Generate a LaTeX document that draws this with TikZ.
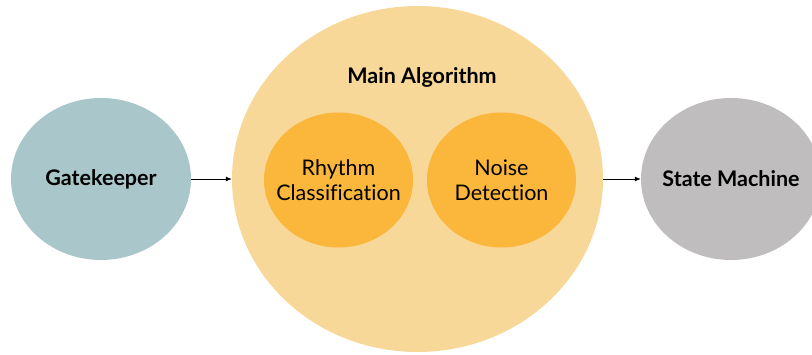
\documentclass[tikz,border=0pt]{standalone}
\usepackage{fontspec}
\setmainfont{Lato}[Ligatures={NoCommon,NoRare}]
\usetikzlibrary{shapes.geometric,arrows.meta}
\definecolor{gatefill}{HTML}{A9C7CA}
\definecolor{mainfill}{HTML}{F7D898}
\definecolor{subfill}{HTML}{FBB73B}
\definecolor{statefill}{HTML}{BFBDBD}
\begin{document}
\begin{tikzpicture}[x=1pt,y=1pt]
\tikzstyle{every node}+=[inner sep=0pt]
\tikzstyle{blob}=[ellipse, draw=none]
\tikzstyle{txt}=[align=center, font=\fontsize{21.5}{25}\selectfont]
\tikzstyle{head}=[txt, font=\fontsize{21.5}{25}\selectfont\bfseries]
\tikzstyle{link}=[-{Latex[length=6pt,width=5pt]}, line width=0.8pt, black]
\useasboundingbox (0,0) rectangle (812,-354);
% outer stages
\node [blob, fill=gatefill, minimum width=180pt, minimum height=162pt] (G) at (101,-179) {};
\node [blob, fill=mainfill, minimum width=371pt, minimum height=346pt] (M) at (417.5,-179) {};
\node [blob, fill=statefill, minimum width=180pt, minimum height=162pt] (S) at (731,-179) {};
\node [head] (Gt) at (G) {Gatekeeper};
\node [head] (St) at (S) {State Machine};
% inside the main algorithm
\node [head] (MA) at (422,-77) {Main Algorithm};
\node [blob, fill=subfill, minimum width=149pt, minimum height=135pt] (R) at (338.5,-180) {};
\node [blob, fill=subfill, minimum width=149pt, minimum height=135pt] (N) at (501.5,-180) {};
\node [txt] (Rt) at (R) {Rhythm\\Classification};
\node [txt] (Nt) at (N) {Noise\\Detection};
% flow
\draw [link] (G) -- (M);
\draw [link] (M) -- (S);
\end{tikzpicture}
\end{document}
